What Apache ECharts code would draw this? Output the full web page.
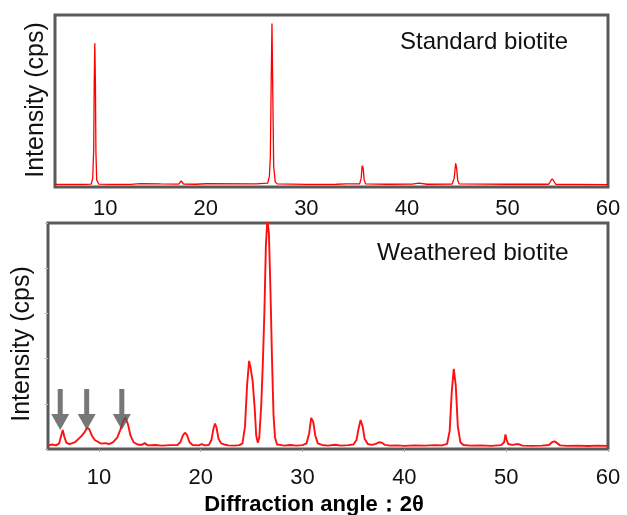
<!DOCTYPE html>
<html>
<head>
<meta charset="utf-8">
<script src="https://cdn.jsdelivr.net/npm/echarts@6/dist/echarts.min.js"></script>
<style>
html,body{margin:0;padding:0;background:#fff;}
#chart{width:627px;height:515px;}
</style>
</head>
<body>
<div id="chart"></div>
<script>
// ---- data ----
const tickValues = [10, 20, 30, 40, 50, 60];

const standardAngles = [5.0, 8.0, 8.6, 8.75, 8.85, 8.9, 8.96, 9.02, 9.07, 9.15, 9.35, 10.5, 12.5, 13.5, 15.5, 17.3, 17.55, 17.8, 19.0, 20.0, 25.0, 26.15, 26.32, 26.42, 26.5, 26.58, 26.65, 26.75, 26.9, 27.1, 30.0, 33.0, 34.0, 35.3, 35.45, 35.55, 35.65, 35.75, 35.9, 38.0, 40.5, 41.2, 42.0, 44.5, 44.7, 44.85, 44.95, 45.05, 45.2, 50.0, 54.1, 54.3, 54.45, 54.6, 54.8, 57.0, 60.0];
const standardIntensity = [1.5, 1.5, 1.7, 5, 22, 60, 83.5, 60, 20, 4, 1.7, 1.5, 1.5, 2.0, 1.8, 1.7, 3.5, 1.7, 1.6, 1.9, 1.8, 2.2, 6, 18, 60, 95, 60, 12, 3, 1.8, 1.5, 1.6, 1.8, 1.8, 5, 12.4, 11, 4, 1.8, 1.6, 1.7, 2.2, 1.6, 1.7, 5, 13.8, 11, 4, 1.8, 1.6, 1.6, 3.5, 4.8, 3.5, 1.6, 1.5, 1.4];

const weatheredAngles = [5.0, 5.4, 5.8, 6.1, 6.3, 6.45, 6.6, 6.8, 7.1, 7.4, 7.7, 8.0, 8.3, 8.6, 8.85, 9.05, 9.3, 9.6, 9.9, 10.2, 10.6, 11.0, 11.4, 11.8, 12.1, 12.4, 12.6, 12.85, 13.1, 13.4, 13.8, 14.2, 14.5, 14.8, 15.5, 16.2, 17.0, 17.7, 18.0, 18.25, 18.45, 18.65, 18.9, 19.2, 19.8, 20.1, 20.4, 20.8, 21.05, 21.25, 21.4, 21.55, 21.75, 22.0, 22.3, 22.7, 23.3, 23.8, 24.1, 24.35, 24.55, 24.75, 24.9, 25.1, 25.3, 25.45, 25.6, 25.75, 25.95, 26.1, 26.25, 26.4, 26.55, 26.7, 26.85, 27.0, 27.15, 27.3, 27.5, 27.8, 28.2, 28.8, 29.4, 30.0, 30.4, 30.65, 30.85, 31.05, 31.25, 31.5, 31.9, 32.5, 33.2, 33.8, 34.5, 35.0, 35.3, 35.5, 35.7, 35.9, 36.1, 36.4, 36.8, 37.2, 37.5, 37.8, 38.1, 38.6, 39.3, 40.0, 41.0, 42.0, 43.0, 43.7, 44.2, 44.45, 44.65, 44.85, 45.05, 45.25, 45.5, 45.8, 46.5, 47.5, 48.5, 49.5, 49.8, 49.93, 50.05, 50.2, 50.6, 51.2, 51.6, 52.5, 53.5, 54.2, 54.5, 54.75, 55.0, 55.3, 56.0, 57.0, 58.0, 59.0, 60.0];
const weatheredIntensity = [1.5, 2.0, 1.6, 2.5, 6.0, 8.4, 5.5, 2.8, 2.2, 2.6, 3.2, 4.5, 5.8, 7.5, 9.4, 8.8, 6.0, 4.0, 3.2, 2.4, 2.6, 2.2, 3.0, 5.0, 8.5, 12.5, 13.9, 11.0, 6.0, 3.0, 2.0, 1.8, 2.6, 1.6, 1.8, 1.5, 1.7, 1.8, 3.0, 6.0, 7.2, 6.2, 3.0, 1.8, 1.6, 2.2, 1.6, 1.8, 4.0, 9.0, 11.3, 9.5, 4.5, 2.5, 2.0, 1.6, 1.5, 1.7, 2.5, 10, 28, 39, 36, 30, 18, 6, 2.8, 5, 20, 38, 60, 90, 102, 95, 70, 40, 15, 5, 2, 1.8, 1.5, 1.8, 1.5, 1.7, 2.5, 7, 13.8, 12, 6, 2.5, 1.8, 1.5, 1.9, 1.5, 1.7, 2.0, 4.0, 9, 12.8, 10, 4.5, 2.2, 1.8, 2.3, 3.0, 2.8, 1.8, 1.5, 1.6, 1.4, 1.6, 1.5, 1.7, 1.6, 2.3, 8, 25, 35.5, 28, 10, 3, 1.8, 1.5, 1.6, 1.4, 1.7, 3.0, 6.4, 4.0, 2.2, 1.8, 2.2, 1.5, 1.4, 1.5, 1.8, 3.0, 3.4, 2.6, 1.6, 1.4, 1.5, 1.3, 1.5, 1.4];

const arrowAngles = [6.2, 8.8, 12.25];
const arrowLevels = [17.5, 17.5, 17.5];

const panelLabels = ['Standard biotite', 'Weathered biotite'];
const yAxisTitle = 'Intensity (cps)';
const xAxisTitle = 'Diffraction angle\uFF1A2\u03B8';

// ---- build ----
const zip = (a, b) => a.map((v, i) => [v, b[i]]);
const FONT = '"Liberation Sans", Arial, sans-serif';
const FRAME = '#5a5a5a';

const chart = echarts.init(document.getElementById('chart'), null, {renderer: 'canvas'});

const xBase = {
  type: 'value', min: 5, max: 60,
  axisLine: {show: false},
  splitLine: {show: false},
  axisLabel: {customValues: tickValues, fontSize: 22, color: '#111', fontFamily: FONT},
};
const yBase = {
  type: 'value', min: 0, max: 100, interval: 20,
  axisLine: {show: false}, splitLine: {show: false},
  axisLabel: {show: false}
};

chart.setOption({
  animation: false,
  backgroundColor: '#fff',
  grid: [
    {left: 55, right: 19, top: 15, height: 172, show: true, borderColor: FRAME, borderWidth: 3, backgroundColor: 'transparent'},
    {left: 48, right: 19, top: 223, height: 226, show: true, borderColor: FRAME, borderWidth: 3, backgroundColor: 'transparent'}
  ],
  xAxis: [
    Object.assign({}, xBase, {gridIndex: 0, axisTick: {show: false},
      axisLabel: Object.assign({}, xBase.axisLabel, {margin: 11})}),
    Object.assign({}, xBase, {gridIndex: 1,
      axisTick: {show: true, customValues: tickValues, length: 3, inside: false, lineStyle: {color: '#aaa'}},
      axisLabel: Object.assign({}, xBase.axisLabel, {margin: 18})})
  ],
  yAxis: [
    Object.assign({}, yBase, {gridIndex: 0, axisTick: {show: false}}),
    Object.assign({}, yBase, {gridIndex: 1, axisTick: {show: true, length: 3, lineStyle: {color: '#bbb'}}})
  ],
  series: [
    {type: 'line', xAxisIndex: 0, yAxisIndex: 0, data: zip(standardAngles, standardIntensity),
      showSymbol: false, lineStyle: {color: '#ff0000', width: 1.3}, silent: true},
    {type: 'line', xAxisIndex: 1, yAxisIndex: 1, data: zip(weatheredAngles, weatheredIntensity),
      showSymbol: false, lineStyle: {color: '#ff1010', width: 1.9}, silent: true},
    {type: 'scatter', xAxisIndex: 1, yAxisIndex: 1, data: zip(arrowAngles, arrowLevels),
      symbol: 'path://M6.5,0 L11.5,0 L11.5,25 L18,25 L9,41 L0,25 L6.5,25 Z', symbolSize: [18, 41],
      itemStyle: {color: '#555'}, silent: true, z: 5}
  ],
  graphic: [
    {type: 'text', left: 400, top: 30, style: {text: panelLabels[0], fontSize: 24, fontFamily: FONT, fill: '#111'}},
    {type: 'text', left: 377, top: 241, style: {text: panelLabels[1], fontSize: 24.5, fontFamily: FONT, fill: '#111'}},
    {type: 'text', x: 36, y: 100, rotation: Math.PI / 2,
      style: {text: yAxisTitle, fontSize: 25, fontFamily: FONT, fill: '#111', align: 'center', verticalAlign: 'middle'}},
    {type: 'text', x: 22, y: 344, rotation: Math.PI / 2,
      style: {text: yAxisTitle, fontSize: 25, fontFamily: FONT, fill: '#111', align: 'center', verticalAlign: 'middle'}},
    {type: 'text', x: 314, y: 505,
      style: {text: xAxisTitle, fontSize: 22, fontWeight: 900, fontFamily: FONT, fill: '#000', align: 'center', verticalAlign: 'middle'}}
  ]
});
</script>
</body>
</html>
